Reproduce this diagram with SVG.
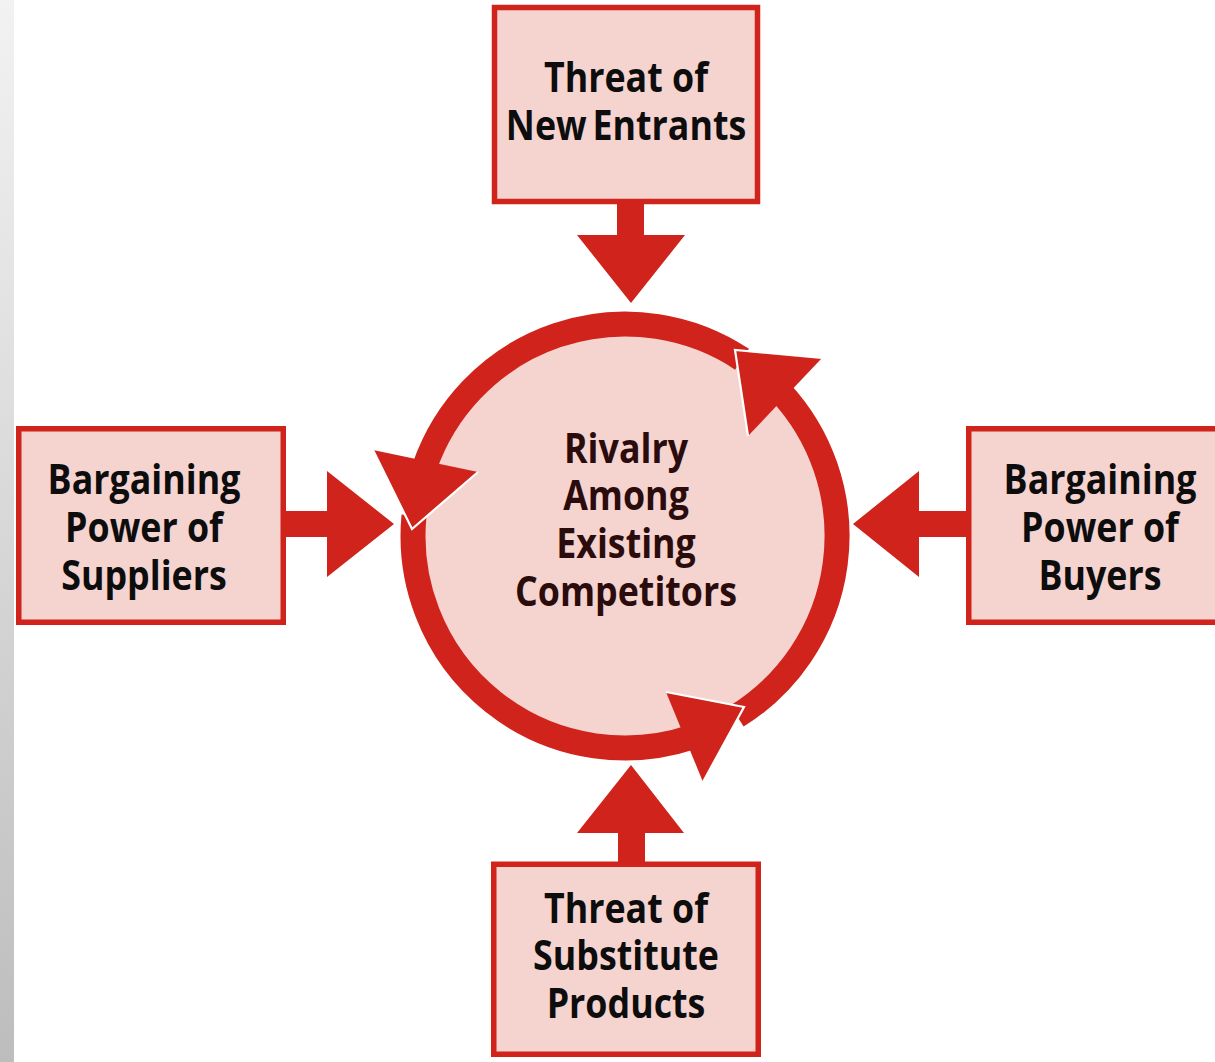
<svg xmlns="http://www.w3.org/2000/svg" width="1215" height="1062" viewBox="0 0 1215 1062">
  <defs>
    <linearGradient id="strip" x1="0" y1="0" x2="0" y2="1">
      <stop offset="0" stop-color="#f2f2f2"/>
      <stop offset="1" stop-color="#bdbdbd"/>
    </linearGradient>
    <style>
      .box { fill: #f5d3cf; stroke: #d0231b; stroke-width: 5.5; }
      .red { fill: #d0231b; }
      .ring { fill: none; stroke: #d0231b; stroke-width: 25; }
      .tipedge { fill: none; stroke: #ffffff; stroke-width: 2.2; stroke-linejoin: miter; }
      .lbl { font-family: "Open Sans", "Noto Sans", "Liberation Sans", sans-serif; font-weight: 700; font-size: 41px; text-anchor: middle; fill: #0d0d0d; }
      .clbl { fill: #2b0c0c; }
    </style>
  </defs>
  <rect x="0" y="0" width="1215" height="1062" fill="#ffffff"/>
  <rect x="0" y="0" width="14" height="1062" fill="url(#strip)"/>

  <g id="connectors">
    <polygon class="red" points="617,200 644,200 644,235 685,235 631,303 577,235 617,235"/>
    <polygon class="red" points="618,864 645,864 645,833 684,833 631,765 577,833 618,833"/>
    <polygon class="red" points="282,511 327,511 327,471 394,524 327,577 327,537 282,537"/>
    <polygon class="red" points="968,511 919,511 919,471 853,524 919,577 919,537 968,537"/>
  </g>

  <g id="rivalry">
    <circle cx="625" cy="536" r="206" fill="#f5d3cf"/>
    <path class="ring" d="M 737.0 716.0 A 212 212 0 0 0 780.1 391.4"/>
    <path class="ring" d="M 742.0 359.2 A 212 212 0 0 0 424.6 467.0"/>
    <path class="ring" d="M 414.0 515.7 A 212 212 0 0 0 691.9 737.2"/>
    <polygon class="red" points="748,436 822,358 735,350"/>
    <polyline class="tipedge" points="822,358 735,350 748,436"/>
    <polygon class="red" points="478,472 373,450 412,529"/>
    <polyline class="tipedge" points="373,450 412,529 478,472"/>
    <polygon class="red" points="666,692 703,782 744,707"/>
    <polyline class="tipedge" points="703,782 744,707 666,692"/>
    <g transform="translate(626,0) scale(0.873,1)">
      <text class="lbl clbl" x="0" y="463">Rivalry</text>
      <text class="lbl clbl" x="0" y="510.5">Among</text>
      <text class="lbl clbl" x="0" y="558">Existing</text>
      <text class="lbl clbl" x="0" y="606">Competitors</text>
    </g>
  </g>

  <g id="new-entrants">
    <rect class="box" x="494.5" y="7.5" width="263" height="194"/>
    <g transform="translate(626,0) scale(0.873,1)">
      <text class="lbl" x="0" y="92">Threat of</text>
      <text class="lbl" x="0" y="140.5" word-spacing="-4">New Entrants</text>
    </g>
  </g>

  <g id="suppliers">
    <rect class="box" x="18.75" y="428.75" width="264.5" height="193.5"/>
    <g transform="translate(144,0) scale(0.873,1)">
      <text class="lbl" x="0" y="494">Bargaining</text>
      <text class="lbl" x="0" y="542">Power of</text>
      <text class="lbl" x="0" y="590">Suppliers</text>
    </g>
  </g>

  <g id="buyers">
    <rect class="box" x="968.75" y="428.75" width="264.5" height="193.5"/>
    <g transform="translate(1100,0) scale(0.873,1)">
      <text class="lbl" x="0" y="494">Bargaining</text>
      <text class="lbl" x="0" y="542">Power of</text>
      <text class="lbl" x="0" y="590">Buyers</text>
    </g>
  </g>

  <g id="substitutes">
    <rect class="box" x="493.75" y="864.25" width="264.5" height="190"/>
    <g transform="translate(626,0) scale(0.873,1)">
      <text class="lbl" x="0" y="923">Threat of</text>
      <text class="lbl" x="0" y="970.5">Substitute</text>
      <text class="lbl" x="0" y="1018">Products</text>
    </g>
  </g>
</svg>
